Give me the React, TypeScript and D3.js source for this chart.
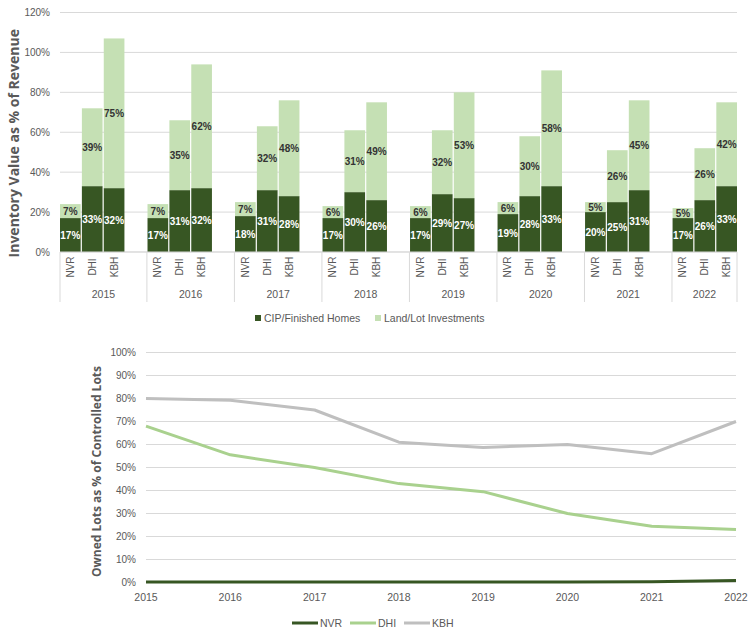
import React from "react";
import { scaleBand, scaleLinear, scalePoint, line as d3Line } from "d3";

const years = ["2015", "2016", "2017", "2018", "2019", "2020", "2021", "2022"];
const builders = ["NVR", "DHI", "KBH"];

// inventory as % of revenue, per year: [NVR, DHI, KBH]
const cipFinished = [
  [17, 33, 32],
  [17, 31, 32],
  [18, 31, 28],
  [17, 30, 26],
  [17, 29, 27],
  [19, 28, 33],
  [20, 25, 31],
  [17, 26, 33],
];
const landLot = [
  [7, 39, 75],
  [7, 35, 62],
  [7, 32, 48],
  [6, 31, 49],
  [6, 32, 53],
  [6, 30, 58],
  [5, 26, 45],
  [5, 26, 42],
];
const barTicks = [0, 20, 40, 60, 80, 100, 120];

// owned lots as % of controlled lots
const nvrOwned = [0.2, 0.2, 0.2, 0.2, 0.2, 0.2, 0.3, 0.9];
const dhiOwned = [68, 55.5, 50, 43, 39.5, 30, 24.5, 23];
const kbhOwned = [80, 79.2, 75, 61, 58.7, 60, 56, 70];
const lineTicks = [0, 10, 20, 30, 40, 50, 60, 70, 80, 90, 100];

const DARK = "#375623";
const LIGHT = "#c5e0b4";
const GRID = "#d9d9d9";
const TXT = "#595959";
const FONT = "'Liberation Sans', Arial, sans-serif";
const TITLE_FONT = "'Open Sans', 'DejaVu Sans', sans-serif";

function BarChart() {
  const left = 60;
  const right = 737;
  const top = 12.5;
  const bottom = 252;

  // 4 slots per year (3 builders + blank), last year without the blank
  const slots: string[] = [];
  years.forEach((y, i) => {
    builders.forEach((b) => slots.push(`${y}-${b}`));
    if (i < years.length - 1) slots.push(`${y}-gap`);
  });
  const x = scaleBand().domain(slots).range([left, right]).paddingInner(0.055).paddingOuter(0);
  const y = scaleLinear().domain([0, 120]).range([bottom, top]);

  const groupStart = (i: number) => (x(`${years[i]}-NVR`) ?? 0) - (x.step() - x.bandwidth()) / 2;

  return (
    <g>
      {barTicks.map((t) => (
        <g key={t}>
          <line x1={left} x2={right} y1={y(t)} y2={y(t)} stroke={GRID} strokeWidth={1} />
          <text x={50} y={y(t)} dy="0.35em" textAnchor="end" fontSize={10} fill={TXT} fontFamily={FONT}>
            {t}%
          </text>
        </g>
      ))}
      {years.map((yr, i) => {
        const gx = Math.max(left, groupStart(i));
        const gEnd = i < years.length - 1 ? groupStart(i + 1) : right;
        return (
          <g key={yr}>
            <line x1={gx} x2={gx} y1={bottom} y2={302} stroke={GRID} />
            {i === years.length - 1 && <line x1={right} x2={right} y1={bottom} y2={302} stroke={GRID} />}
            <text x={(gx + gEnd) / 2} y={298} textAnchor="middle" fontSize={10.5} fill={TXT} fontFamily={FONT}>
              {yr}
            </text>
            {builders.map((b, j) => {
              const bx = x(`${yr}-${b}`) ?? 0;
              const w = x.bandwidth();
              const v1 = cipFinished[i][j];
              const v2 = landLot[i][j];
              const cx = bx + w / 2;
              return (
                <g key={b}>
                  <rect x={bx} y={y(v1)} width={w} height={y(0) - y(v1)} fill={DARK} />
                  <rect x={bx} y={y(v1 + v2)} width={w} height={y(v1) - y(v1 + v2)} fill={LIGHT} />
                  <text x={cx} y={y(v1 / 2)} dy="0.35em" textAnchor="middle" fontSize={10} fontWeight="bold" fill="#fff" fontFamily={FONT}>
                    {v1}%
                  </text>
                  <text x={cx} y={y(v1 + v2 / 2)} dy="0.35em" textAnchor="middle" fontSize={10} fontWeight="bold" fill="#333" fontFamily={FONT}>
                    {v2}%
                  </text>
                  <text
                    transform={`translate(${cx},267) rotate(-90)`}
                    dy="0.35em"
                    textAnchor="middle"
                    fontSize={10}
                    fill={TXT}
                    fontFamily={FONT}
                  >
                    {b}
                  </text>
                </g>
              );
            })}
          </g>
        );
      })}
      <line x1={left} x2={right} y1={bottom} y2={bottom} stroke={GRID} />
      <text
        transform={`translate(14,${(top + bottom) / 2 + 11}) rotate(-90)`}
        dy="0.35em"
        textAnchor="middle"
        fontSize={14}
        fontWeight="bold"
        fill={TXT}
        fontFamily={TITLE_FONT}
      >
        Inventory Value as % of Revenue
      </text>
      <g fontFamily={FONT} fontSize={10.5} fill={TXT}>
        <rect x={255} y={315} width={6} height={6} fill={DARK} />
        <text x={264} y={318} dy="0.35em">CIP/Finished Homes</text>
        <rect x={375} y={315} width={6} height={6} fill={LIGHT} />
        <text x={384} y={318} dy="0.35em">Land/Lot Investments</text>
      </g>
    </g>
  );
}

function LineChart() {
  const left = 146;
  const right = 736;
  const top = 352.5;
  const bottom = 582.5;
  const x = scalePoint().domain(years).range([left, right]);
  const y = scaleLinear().domain([0, 100]).range([bottom, top]);
  const series = [
    { name: "NVR", values: nvrOwned, color: DARK },
    { name: "DHI", values: dhiOwned, color: "#a9d18e" },
    { name: "KBH", values: kbhOwned, color: "#bfbfbf" },
  ];
  const path = d3Line<number>()
    .x((_, i) => x(years[i]) ?? 0)
    .y((d) => y(d));
  const legendX = [292, 350, 404];

  return (
    <g>
      {lineTicks.map((t) => (
        <g key={t}>
          <line x1={left} x2={right} y1={y(t)} y2={y(t)} stroke={GRID} />
          <text x={136} y={y(t)} dy="0.35em" textAnchor="end" fontSize={10} fill={TXT} fontFamily={FONT}>
            {t}%
          </text>
        </g>
      ))}
      {years.map((yr) => (
        <text key={yr} x={x(yr)} y={601} textAnchor="middle" fontSize={10.5} fill={TXT} fontFamily={FONT}>
          {yr}
        </text>
      ))}
      {[...series].reverse().map((s) => (
        <path key={s.name} d={path(s.values) ?? ""} fill="none" stroke={s.color} strokeWidth={3} strokeLinejoin="round" />
      ))}
      <text
        transform={`translate(97,${(top + bottom) / 2 + 4}) rotate(-90)`}
        dy="0.35em"
        textAnchor="middle"
        fontSize={12}
        fontWeight="bold"
        fill={TXT}
        fontFamily={TITLE_FONT}
      >
        Owned Lots as % of Controlled Lots
      </text>
      <g fontFamily={FONT} fontSize={10.5} fill={TXT}>
        {series.map((s, i) => (
          <g key={s.name}>
            <line x1={legendX[i]} x2={legendX[i] + 26} y1={623} y2={623} stroke={s.color} strokeWidth={3} />
            <text x={legendX[i] + 28} y={623} dy="0.35em">
              {s.name}
            </text>
          </g>
        ))}
      </g>
    </g>
  );
}

export default function App() {
  return (
    <div style={{ position: "absolute", left: 0, top: 0 }}>
      <svg width={750} height={635} viewBox="0 0 750 635" style={{ display: "block", background: "#fff" }}>
        <BarChart />
        <LineChart />
      </svg>
    </div>
  );
}
